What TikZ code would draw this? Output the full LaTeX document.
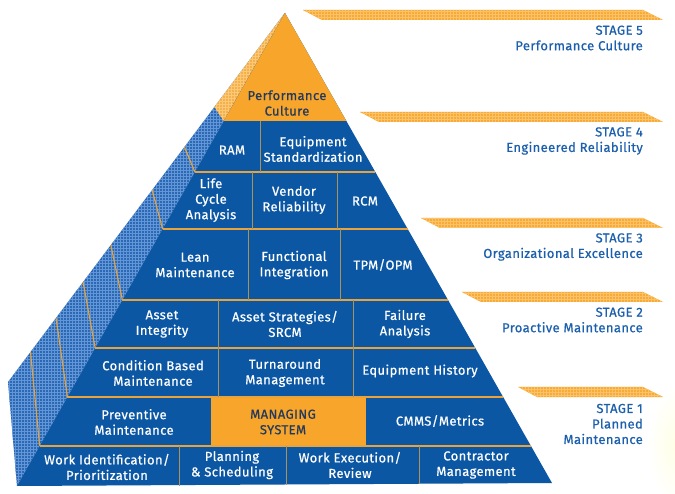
\documentclass[tikz,border=0pt]{standalone}
\usepackage{fontspec}
\setmainfont{Fira Sans}[LetterSpace=3, FakeBold=0.6]
\usetikzlibrary{patterns}
\definecolor{frontblue}{HTML}{0B57A4}
\definecolor{sideblue}{HTML}{2C69B5}
\definecolor{hatchblue}{HTML}{6396D6}
\definecolor{pyrorange}{HTML}{F7A52B}
\definecolor{sideorange}{HTML}{F6B04A}
\definecolor{hatchorange}{HTML}{FBC878}
\definecolor{banorange}{HTML}{F8AA35}
\definecolor{banhatch}{HTML}{FAC26A}
\definecolor{navytext}{HTML}{243A5C}
\definecolor{stageblue}{HTML}{1B5FAD}
\definecolor{divider}{HTML}{A8925E}
\definecolor{stepline}{HTML}{E9A33A}
\tikzset{
  celltext/.style={text=white, align=center, inner sep=0pt, font=\fontsize{13}{15.5}\selectfont},
  darktext/.style={celltext, text=navytext},
  stagetext/.style={text=stageblue, align=right, anchor=east, inner sep=0pt, font=\fontsize{13}{15.5}\selectfont},
  divline/.style={draw=divider, line width=0.9pt},
  rowline/.style={draw=stepline, line width=1.1pt},
  stepedge/.style={draw=stepline, line width=1.1pt},
  banner/.style={fill=banorange},
  bannerhatch/.style={pattern=grid, pattern color=banhatch}
}
\begin{document}
\begin{tikzpicture}[x=1pt,y=-1pt,
  declare function={xl(\t)=285-(\t-13)*0.5666; xr(\t)=285+(\t-13)*0.568; xo(\t)=285-(\t-13)*0.7507;}]
\useasboundingbox (0,0) rectangle (675,494);
\fill[white] (0,0) rectangle (675,494);
\shade[inner color=yellow!12, outer color=white, opacity=0.8] (676,445) ellipse [x radius=28, y radius=60];

% coordinates
\coordinate (A) at (285,13);
\coordinate (BL) at (17,486);
\coordinate (BR) at (552,483);
\coordinate (OL) at (8,382);

% side face
\fill[sideblue] (A) -- (OL) -- (BL) -- cycle;
\fill[pattern=grid, pattern color=hatchblue] (A) -- (OL) -- (BL) -- cycle;
% orange side of top
\fill[sideorange] (A) -- ({xo(107)},107) -- ({xl(121)},121) -- cycle;
\fill[pattern=grid, pattern color=hatchorange] (A) -- ({xo(107)},107) -- ({xl(121)},121) -- cycle;

% front face
\fill[frontblue] (A) -- (BL) -- (BR) -- cycle;
\fill[pyrorange] (A) -- ({xl(121)},121) -- ({xr(121)},121) -- cycle;
\fill[pyrorange] (211,397) rectangle (366,446);

% step edges on side
\foreach \a/\b in {147/172,190/229,245/300,282/348,318/397,352/446}{
  \draw[stepedge] ({xo(\a)},\a) -- ({xl(\b)},\b);
  \draw[rowline] ({xl(\b)},\b) -- ({xr(\b)},\b);
}

% vertical dividers
\draw[divline] (260,121) -- (260,172);
\draw[divline] (252,172) -- (252,229);
\draw[divline] (337,172) -- (337,229);
\draw[divline] (248,229) -- (248,300);
\draw[divline] (340,229) -- (340,300);
\draw[divline] (218,300) -- (218,397);
\draw[divline] (353,300) -- (353,397);
\draw[divline] (179,446) -- (179,486);
\draw[divline] (286,446) -- (286,485);
\draw[divline] (419,446) -- (419,484);

% banners
\foreach \n/\t/\l in {b5/10/303, b4/112/360, b3/218/421, b2/292/462, b1/387/518}{
  \fill[banner] (\l,\t) -- (643,\t) -- (663,\t+10) -- (\l+19,\t+10) -- cycle;
  \fill[bannerhatch] (\l,\t) -- (643,\t) -- (663,\t+10) -- (\l+19,\t+10) -- cycle;
}

% cell texts
\node[darktext] (perf) at (287,103) {Performance\\Culture};
\node[celltext] (ram) at (232,150) {RAM};
\node[celltext] (eqstd) at (313,149) {Equipment\\Standardization};
\node[celltext] (lca) at (211,200) {Life\\Cycle\\Analysis};
\node[celltext] (vendor) at (294,200) {Vendor\\Reliability};
\node[celltext] (rcm) at (365,201) {RCM};
\node[celltext] (lean) at (195,265) {Lean\\Maintenance};
\node[celltext] (func) at (294,265) {Functional\\Integration};
\node[celltext] (tpm) at (383,265) {TPM/OPM};
\node[celltext] (asset) at (162,324) {Asset\\Integrity};
\node[celltext] (strat) at (285,324) {Asset Strategies/\\SRCM};
\node[celltext] (fail) at (405,324) {Failure\\Analysis};
\node[celltext] (cbm) at (153,373) {Condition Based\\Maintenance};
\node[celltext] (turn) at (285,373) {Turnaround\\Management};
\node[celltext] (eqhist) at (420,371) {Equipment History};
\node[celltext] (prev) at (134,422) {Preventive\\Maintenance};
\node[darktext] (manage) at (283,422) {MANAGING\\SYSTEM};
\node[celltext] (cmms) at (440,421) {CMMS/Metrics};
\node[celltext] (workid) at (107,467) {Work Identification/\\Prioritization};
\node[celltext] (plan) at (232,465) {Planning\\\& Scheduling};
\node[celltext] (exec) at (350,465) {Work Execution/\\Review};
\node[celltext] (contr) at (476,465) {Contractor\\Management};

% stage texts
\node[stagetext] (s5) at (643,38) {STAGE 5\\Performance Culture};
\node[stagetext] (s4) at (643,141) {STAGE 4\\Engineered Reliability};
\node[stagetext] (s3) at (643,247) {STAGE 3\\Organizational Excellence};
\node[stagetext] (s2) at (643,320) {STAGE 2\\Proactive Maintenance};
\node[stagetext] (s1) at (643,424) {STAGE 1\\Planned\\Maintenance};
\end{tikzpicture}
\end{document}
